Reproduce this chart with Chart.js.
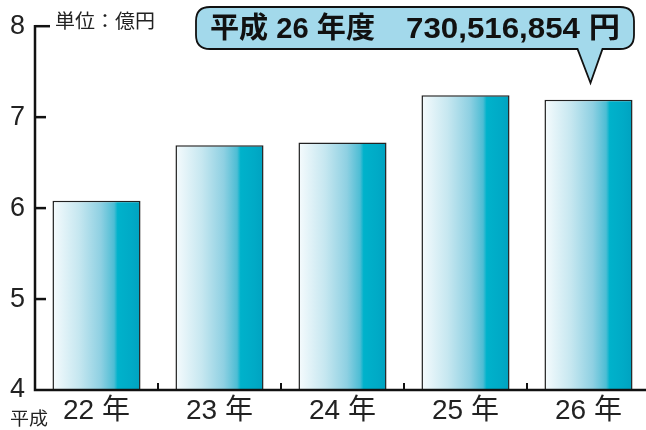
<!DOCTYPE html>
<html><head><meta charset="utf-8">
<script src="https://cdn.jsdelivr.net/npm/chart.js@4"></script>
<style>html,body{margin:0;padding:0;background:#fff;overflow:hidden;width:646px;height:430px}#c{display:block}</style>
</head><body>
<canvas id="c" width="650" height="430" style="width:650px;height:430px"></canvas>
<script>
const categories = ['22 年','23 年','24 年','25 年','26 年'];
const values = [6.08, 6.69, 6.72, 7.24, 7.19];
const yTicks = [4,5,6,7,8];
const unitLabel = '単位：億円';
const eraLabel = '平成';
const calloutLeft = '平成 26 年度';
const calloutRight = '730,516,854 円';
const FONT = '"Liberation Sans","Noto Sans CJK JP",sans-serif';
const BAR_PCT = 0.716;

function fitText(ctx, text, x, y, targetW){
  const w = ctx.measureText(text).width;
  const s = targetW / w;
  ctx.save(); ctx.translate(x, y); ctx.scale(s, 1); ctx.fillText(text, 0, 0); ctx.restore();
}

const decor = {
  id:'decor',
  afterDatasetsDraw(chart){
    const ctx = chart.ctx, a = chart.chartArea, xs = chart.scales.x, ys = chart.scales.y;
    ctx.save();
    ctx.strokeStyle = '#111'; ctx.lineCap='butt';
    ctx.lineWidth = 2.5;
    ctx.beginPath();
    ctx.moveTo(a.left, ys.getPixelForValue(8)-1.2);
    ctx.lineTo(a.left, a.bottom);
    ctx.lineTo(a.right, a.bottom);
    ctx.stroke();
    yTicks.forEach(v=>{
      if (v===4) return;
      const y = ys.getPixelForValue(v);
      ctx.beginPath(); ctx.moveTo(a.left, y); ctx.lineTo(a.left + (v===8?15:11), y); ctx.stroke();
    });
    ctx.lineWidth = 2;
    for (let i=1;i<categories.length;i++){
      const x = (xs.getPixelForValue(i-1)+xs.getPixelForValue(i))/2;
      ctx.beginPath(); ctx.moveTo(x, a.bottom); ctx.lineTo(x, a.bottom-7); ctx.stroke();
    }
    ctx.fillStyle = '#222';
    ctx.textBaseline = 'middle'; ctx.textAlign='left';
    ctx.font = '19px ' + FONT;
    fitText(ctx, unitLabel, 55, 23, 100);
    ctx.font = '18px ' + FONT;
    fitText(ctx, eraLabel, 10, 420, 38);
    const L=196, T=7, R=634, B=49, r=14;
    const tipX = xs.getPixelForValue(4)+2;
    ctx.beginPath();
    ctx.moveTo(L+r,T); ctx.lineTo(R-r,T); ctx.quadraticCurveTo(R,T,R,T+r);
    ctx.lineTo(R,B-r); ctx.quadraticCurveTo(R,B,R-r,B);
    ctx.lineTo(tipX+12,B); ctx.lineTo(tipX,83); ctx.lineTo(tipX-13,B);
    ctx.lineTo(L+r,B); ctx.quadraticCurveTo(L,B,L,B-r);
    ctx.lineTo(L,T+r); ctx.quadraticCurveTo(L,T,L+r,T);
    ctx.closePath();
    ctx.fillStyle = '#a3d9eb'; ctx.fill();
    ctx.lineWidth = 1.8; ctx.strokeStyle='#111'; ctx.stroke();
    ctx.fillStyle = '#111';
    ctx.font = 'bold 29px ' + FONT;
    fitText(ctx, calloutLeft, 210, 30, 165);
    fitText(ctx, calloutRight, 406, 30, 214);
    ctx.restore();
  }
};

function barGradient(c){
  const chart = c.chart;
  const xs = chart.scales && chart.scales.x;
  if (!chart.chartArea || !xs || c.dataIndex === undefined) return '#00b0c8';
  const cx = xs.getPixelForValue(c.dataIndex);
  const w = (chart.chartArea.right - chart.chartArea.left) / categories.length * BAR_PCT;
  const x0 = cx - w/2, x1 = cx + w/2;
  if (!isFinite(x0) || !isFinite(x1)) return '#00b0c8';
  const g = chart.ctx.createLinearGradient(x0,0,x1,0);
  g.addColorStop(0,'#f6fbfd');
  g.addColorStop(0.3,'#c6e7f0');
  g.addColorStop(0.55,'#8ed0e2');
  g.addColorStop(0.7,'#4dbdd4');
  g.addColorStop(0.74,'#00b2cb');
  g.addColorStop(0.9,'#00aac6');
  g.addColorStop(1,'#00a2c0');
  return g;
}

new Chart(document.getElementById('c'), {
  type:'bar',
  data:{ labels: categories, datasets:[{ data: values, backgroundColor: barGradient, borderColor:'#222', borderWidth:1.5, barPercentage:BAR_PCT, categoryPercentage:1, borderSkipped:'bottom' }]},
  options:{
    responsive:false, animation:false,
    layout:{ padding:{ top:26, left:0, right:0, bottom:0 } },
    plugins:{ legend:{display:false}, tooltip:{enabled:false} },
    scales:{
      x:{ grid:{display:false, drawTicks:false}, border:{display:false},
          ticks:{ color:'#222', font:{size:28, family:FONT}, padding:4 },
          afterFit(s){ s.height = 40; } },
      y:{ min:4, max:8, grid:{display:false, drawTicks:false}, border:{display:false},
          ticks:{ stepSize:1, color:'#222', font:{size:27, family:FONT}, padding:10 },
          afterFit(s){ s.width = 35; } }
    }
  },
  plugins:[decor]
});
</script>
</body></html>
